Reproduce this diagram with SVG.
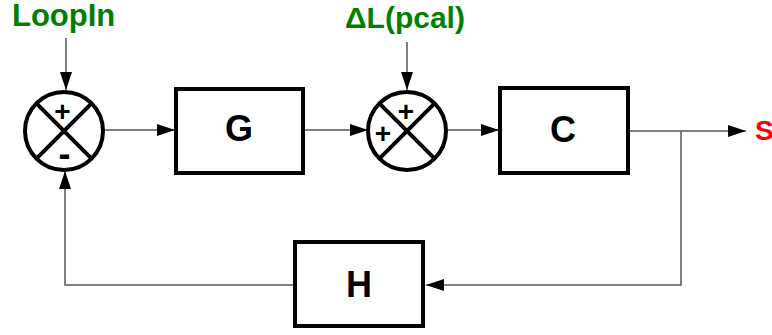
<svg xmlns="http://www.w3.org/2000/svg" width="772" height="335" viewBox="0 0 772 335">
<defs>
<style>
.box{fill:#fff;stroke:#000;stroke-width:4}
.sum{fill:#fff;stroke:#000;stroke-width:4}
.x{stroke:#000;stroke-width:4}
.wire{fill:none;stroke:#555;stroke-width:1.5}
.lbl{font-family:"Liberation Sans",Arial,sans-serif;font-weight:bold;text-anchor:middle;fill:#000}
.sign{font-family:"Liberation Sans",Arial,sans-serif;font-weight:bold;text-anchor:middle;fill:#000;font-size:28px}
.minus{font-family:"Liberation Sans",Arial,sans-serif;font-weight:bold;text-anchor:middle;fill:#000;font-size:36px}
.in{font-family:"Liberation Sans",Arial,sans-serif;font-weight:bold;fill:#008000}
</style>
<marker id="ah" markerUnits="userSpaceOnUse" markerWidth="18" markerHeight="12" refX="18" refY="6" orient="auto">
<path d="M0,0 L18,6 L0,12 z" fill="#000"/>
</marker>
</defs>
<rect width="772" height="335" fill="#fff"/>
<g id="connectors">
<path class="wire" d="M66,38 L66,90" marker-end="url(#ah)"/>
<path class="wire" d="M104,130 L175,130" marker-end="url(#ah)"/>
<path class="wire" d="M305,130 L368,130" marker-end="url(#ah)"/>
<path class="wire" d="M407,42 L407,90" marker-end="url(#ah)"/>
<path class="wire" d="M448,130 L499,130" marker-end="url(#ah)"/>
<path class="wire" d="M630,131 L746,131" marker-end="url(#ah)"/>
<path class="wire" d="M681,131 L681,285 L426,285" marker-end="url(#ah)"/>
<path class="wire" d="M293,285 L65,285 L65,171" marker-end="url(#ah)"/>
</g>
<g id="loopin">
<text class="in" x="12" y="26" font-size="31">LoopIn</text>
</g>
<g id="deltaL">
<text class="in" x="345" y="28" font-size="30">ΔL(pcal)</text>
</g>
<g id="sum1">
<circle class="sum" cx="64" cy="131" r="39"/>
<line class="x" x1="36.4" y1="103.4" x2="91.6" y2="158.6"/>
<line class="x" x1="91.6" y1="103.4" x2="36.4" y2="158.6"/>
<text class="sign" x="62.5" y="121">+</text>
<text class="minus" x="64.5" y="166">-</text>
</g>
<g id="G">
<rect class="box" x="176" y="89" width="127" height="84"/>
<text class="lbl" x="239" y="141" font-size="36">G</text>
</g>
<g id="sum2">
<circle class="sum" cx="407" cy="131" r="39"/>
<line class="x" x1="379.4" y1="103.4" x2="434.6" y2="158.6"/>
<line class="x" x1="434.6" y1="103.4" x2="379.4" y2="158.6"/>
<text class="sign" x="406" y="121">+</text>
<text class="sign" x="383" y="143">+</text>
</g>
<g id="C">
<rect class="box" x="500" y="88" width="128" height="85"/>
<text class="lbl" x="563" y="142" font-size="36">C</text>
</g>
<g id="H">
<rect class="box" x="295" y="242" width="128" height="84"/>
<text class="lbl" x="359" y="297" font-size="36">H</text>
</g>
<g id="S">
<text x="755" y="140" font-family="Liberation Sans, Arial, sans-serif" font-weight="bold" font-size="28" fill="#ff0000">S</text>
</g>
</svg>
